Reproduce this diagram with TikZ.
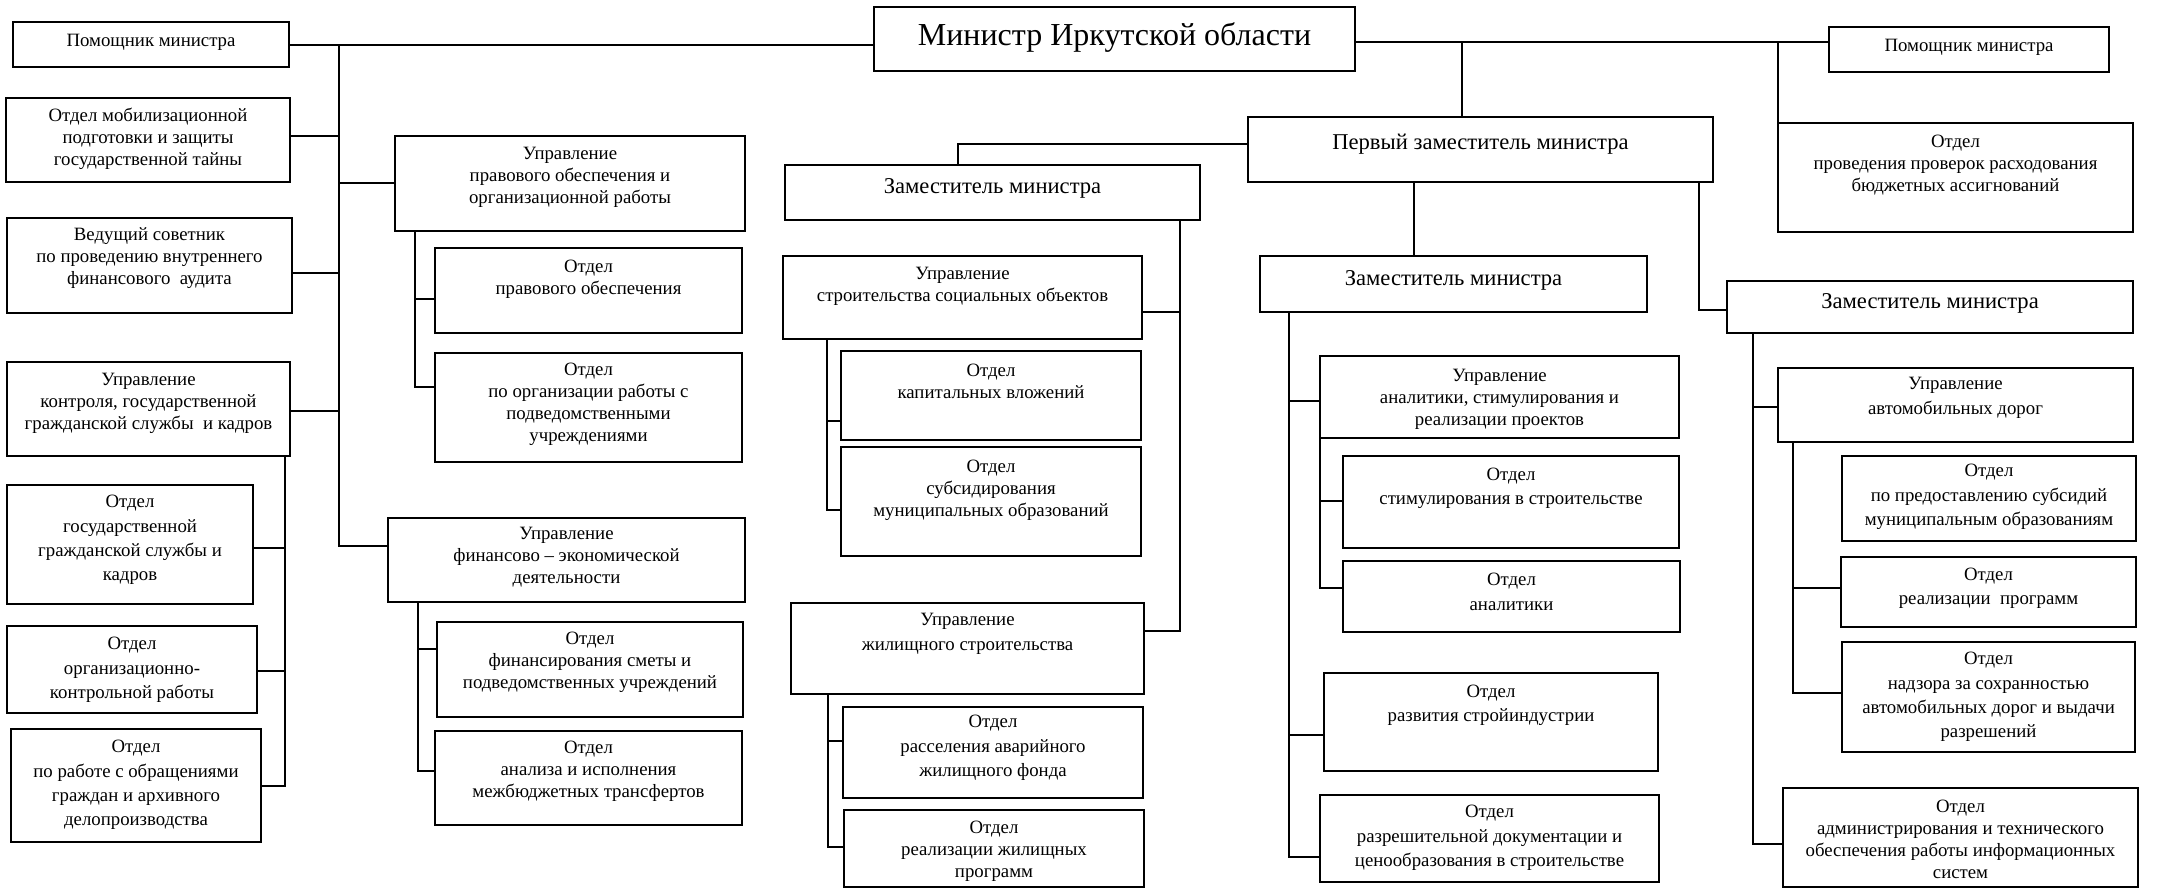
\documentclass[tikz,border=0pt]{standalone}
\usepackage{fontspec}
\setmainfont{Liberation Serif}
\usetikzlibrary{fit}
\tikzset{
  box/.style={draw, line width=1.1pt, inner sep=0pt},
  conn/.style={line width=1.1pt},
  txt/.style={align=center, inner sep=0pt, font=\fontsize{9.4}{11}\selectfont},
  txtw/.style={align=center, inner sep=0pt, font=\fontsize{9.4}{12.2}\selectfont},
  txtbig/.style={align=center, inner sep=0pt, font=\fontsize{16}{19}\selectfont},
  txtmid/.style={align=center, inner sep=0pt, font=\fontsize{11.3}{14}\selectfont}
}
% name, x1, y1, x2, y2, text-centre y, text style, text
\newcommand\bx[8]{%
  \node[box, fit={(#2,#3) (#4,#5)}] (#1) {};
  \node[#7] (#1-t) at ({(#2+#4)/2},#6) {#8};}
\begin{document}
\begin{tikzpicture}[x=0.5pt,y=-0.5pt]
\useasboundingbox (0,0) rectangle (2172,889);
% ---------- left column ----------
\bx{hl}{13}{22}{289}{67}{42}{txt}{Помощник министра}
\bx{mob}{6}{98}{290}{182}{139}{txt}{Отдел мобилизационной\\подготовки и защиты\\государственной тайны}
\bx{ved}{7}{218}{292}{313}{258}{txt}{Ведущий советник\\по проведению внутреннего\\финансового\ \ аудита}
\bx{ctrl}{7}{362}{290}{456}{403}{txt}{Управление\\контроля, государственной\\гражданской службы\ \ и кадров}
\bx{gos}{7}{485}{253}{604}{540}{txtw}{Отдел\\государственной\\гражданской службы и\\кадров}
\bx{org}{7}{626}{257}{713}{670}{txtw}{Отдел\\организационно-\\контрольной работы}
\bx{obr}{11}{729}{261}{842}{785}{txtw}{Отдел\\по работе с обращениями\\граждан и архивного\\делопроизводства}
\bx{uprav}{395}{136}{745}{231}{177}{txt}{Управление\\правового обеспечения и\\организационной работы}
\bx{oprav}{435}{248}{742}{333}{279}{txt}{Отдел\\правового обеспечения}
\bx{oorg}{435}{353}{742}{462}{404}{txt}{Отдел\\по организации работы с\\подведомственными\\учреждениями}
\bx{ufin}{388}{518}{745}{602}{557}{txt}{Управление\\финансово – экономической\\деятельности}
\bx{ofin}{437}{622}{743}{717}{662}{txt}{Отдел\\финансирования сметы и\\подведомственных учреждений}
\bx{oan}{435}{731}{742}{825}{771}{txt}{Отдел\\анализа и исполнения\\межбюджетных трансфертов}
% ---------- centre ----------
\bx{min}{874}{7}{1355}{71}{37}{txtbig}{Министр Иркутской области}
\bx{zl}{785}{165}{1200}{220}{188}{txtmid}{Заместитель министра}
\bx{usoc}{783}{256}{1142}{339}{286}{txt}{Управление\\строительства социальных объектов}
\bx{okap}{841}{351}{1141}{440}{381}{txt}{Отдел\\капитальных вложений}
\bx{osub}{841}{447}{1141}{556}{490}{txt}{Отдел\\субсидирования\\муниципальных образований}
\bx{uzh}{791}{603}{1144}{694}{634}{txtw}{Управление\\жилищного строительства}
\bx{oras}{843}{707}{1143}{798}{748}{txtw}{Отдел\\расселения аварийного\\жилищного фонда}
\bx{orzh}{844}{810}{1144}{887}{851}{txt}{Отдел\\реализации жилищных\\программ}
\bx{pz}{1248}{117}{1713}{182}{144}{txtmid}{Первый заместитель министра}
\bx{zm}{1260}{256}{1647}{312}{280}{txtmid}{Заместитель министра}
\bx{uan}{1320}{356}{1679}{438}{399}{txt}{Управление\\аналитики, стимулирования и\\реализации проектов}
\bx{ostim}{1343}{456}{1679}{548}{488}{txtw}{Отдел\\стимулирования в строительстве}
\bx{oanl}{1343}{561}{1680}{632}{592}{txtw}{Отдел\\аналитики}
\bx{orazv}{1324}{673}{1658}{771}{705}{txtw}{Отдел\\развития стройиндустрии}
\bx{oraz}{1320}{795}{1659}{882}{838}{txtw}{Отдел\\разрешительной документации и\\ценообразования в строительстве}
% ---------- right column ----------
\bx{hr}{1829}{27}{2109}{72}{47}{txt}{Помощник министра}
\bx{oprov}{1778}{123}{2133}{232}{165}{txt}{Отдел\\проведения проверок расходования\\бюджетных ассигнований}
\bx{zr}{1727}{281}{2133}{333}{303}{txtmid}{Заместитель министра}
\bx{uavt}{1778}{368}{2133}{442}{398}{txtw}{Управление\\автомобильных дорог}
\bx{opred}{1842}{456}{2136}{541}{497}{txtw}{Отдел\\по предоставлению субсидий\\муниципальным образованиям}
\bx{oreal}{1841}{557}{2136}{627}{588}{txtw}{Отдел\\реализации\ \ программ}
\bx{onadz}{1842}{642}{2135}{752}{697}{txtw}{Отдел\\надзора за сохранностью\\автомобильных дорог и выдачи\\разрешений}
\bx{oadm}{1783}{788}{2138}{887}{839}{txt}{Отдел\\администрирования и технического\\обеспечения работы информационных\\систем}
% ---------- connectors ----------
% minister level
\coordinate (tl) at (339,45);
\draw[conn] (hl.east |- tl) -- (min.west |- tl);
\coordinate (jr) at (1462,42);
\coordinate (jr2) at (1778,42);
\draw[conn] (min.east |- jr) -- (hr.west |- jr);
\draw[conn] (jr) -- (jr |- pz.north);
\draw[conn] (jr2) -- (jr2 |- oprov.north);
% left trunk
\coordinate (tlb) at (339,546);
\draw[conn] (tl) -- (tlb) -- (tlb -| ufin.west);
\coordinate (a1) at (339,136); \draw[conn] (a1) -- (a1 -| mob.east);
\coordinate (a2) at (339,273); \draw[conn] (a2) -- (a2 -| ved.east);
\coordinate (a3) at (339,411); \draw[conn] (a3) -- (a3 -| ctrl.east);
\coordinate (a4) at (339,183); \draw[conn] (a4) -- (a4 -| uprav.west);
% control sub-trunk
\coordinate (c0) at (285,456);
\coordinate (c3) at (285,786);
\draw[conn] (c0) -- (c3) -- (c3 -| obr.east);
\coordinate (c1) at (285,548); \draw[conn] (c1) -- (c1 -| gos.east);
\coordinate (c2) at (285,671); \draw[conn] (c2) -- (c2 -| org.east);
% legal sub-trunk
\coordinate (p0) at (415,231);
\coordinate (p2) at (415,387);
\draw[conn] (p0) -- (p2) -- (p2 -| oorg.west);
\coordinate (p1) at (415,299); \draw[conn] (p1) -- (p1 -| oprav.west);
% finance sub-trunk
\coordinate (f0) at (418,602);
\coordinate (f2) at (418,771);
\draw[conn] (f0) -- (f2) -- (f2 -| oan.west);
\coordinate (f1) at (418,649); \draw[conn] (f1) -- (f1 -| ofin.west);
% first deputy to left deputy
\coordinate (d0) at (958,144);
\draw[conn] (pz.west |- d0) -- (d0) -- (d0 |- zl.north);
% left deputy sub-trunk
\coordinate (z0) at (1180,220);
\coordinate (z2) at (1180,631);
\draw[conn] (z0) -- (z2) -- (z2 -| uzh.east);
\coordinate (z1) at (1180,312); \draw[conn] (z1) -- (z1 -| usoc.east);
% social objects sub-trunk
\coordinate (s0) at (827,339);
\coordinate (s2) at (827,510);
\draw[conn] (s0) -- (s2) -- (s2 -| osub.west);
\coordinate (s1) at (827,421); \draw[conn] (s1) -- (s1 -| okap.west);
% housing sub-trunk
\coordinate (h0) at (828,694);
\coordinate (h2) at (828,847);
\draw[conn] (h0) -- (h2) -- (h2 -| orzh.west);
\coordinate (h1) at (828,741); \draw[conn] (h1) -- (h1 -| oras.west);
% first deputy to middle deputy
\coordinate (m0) at (1414,182);
\draw[conn] (m0) -- (m0 |- zm.north);
% middle deputy sub-trunk
\coordinate (n0) at (1289,312);
\coordinate (n3) at (1289,857);
\draw[conn] (n0) -- (n3) -- (n3 -| oraz.west);
\coordinate (n1) at (1289,401); \draw[conn] (n1) -- (n1 -| uan.west);
\coordinate (n2) at (1289,735); \draw[conn] (n2) -- (n2 -| orazv.west);
% analytics sub-trunk
\coordinate (q0) at (1320,438);
\coordinate (q2) at (1320,588);
\draw[conn] (q0) -- (q2) -- (q2 -| oanl.west);
\coordinate (q1) at (1320,501); \draw[conn] (q1) -- (q1 -| ostim.west);
% first deputy to right deputy
\coordinate (r0) at (1699,182);
\coordinate (r1) at (1699,310);
\draw[conn] (r0) -- (r1) -- (r1 -| zr.west);
% right deputy sub-trunk
\coordinate (k0) at (1753,333);
\coordinate (k2) at (1753,844);
\draw[conn] (k0) -- (k2) -- (k2 -| oadm.west);
\coordinate (k1) at (1753,407); \draw[conn] (k1) -- (k1 -| uavt.west);
% roads sub-trunk
\coordinate (v0) at (1793,442);
\coordinate (v2) at (1793,693);
\draw[conn] (v0) -- (v2) -- (v2 -| onadz.west);
\coordinate (v1) at (1793,588); \draw[conn] (v1) -- (v1 -| oreal.west);
\end{tikzpicture}
\end{document}
